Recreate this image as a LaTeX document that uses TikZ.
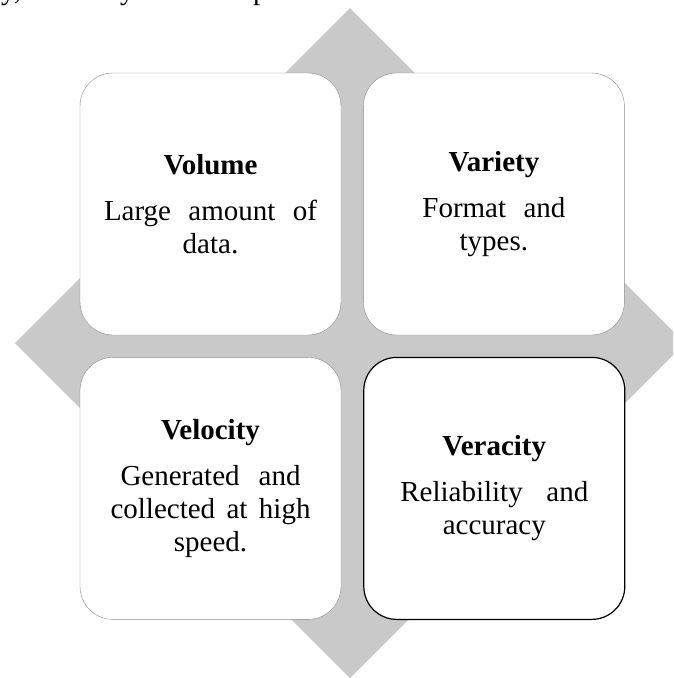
\documentclass[tikz,border=0pt]{standalone}
\usepackage{fontspec}
\setmainfont{Liberation Serif}
\usepackage{tikz}
\usetikzlibrary{positioning}

\definecolor{diagrey}{RGB}{201,201,201}
\definecolor{boxline}{RGB}{140,140,140}

\begin{document}
\begin{tikzpicture}[x=1pt, y=-1pt,
    vbox/.style = {shape=rectangle, draw=boxline, fill=white, rounded corners=33pt,
        minimum width=261pt, minimum height=262pt, align=center, inner sep=0pt,
        font=\fontsize{29}{33}\selectfont},
    frag/.style = {anchor=base west, inner sep=0pt, font=\fontsize{29}{33}\selectfont}]
    \useasboundingbox (0,0) rectangle (673,678);
    \clip (0,0) rectangle (673,678);
    % cut-off line of text above the figure
    \node[frag] (fraga) at (1,-0.5) {y,};
    \node[frag] (fragb) at (120,-0.5) {y};
    \node[frag] (fragc) at (253,-0.5) {p};
    % grey diamond behind the boxes
    \fill[diagrey] (350,8) -- (685,343) -- (350,678) -- (15,343) -- cycle;
    \node[vbox] (volume) at (210.5,204) {\textbf{Volume}\\[13pt]
        \makebox[213pt][s]{Large amount of}\\ data.};
    \node[vbox, right=22pt of volume] (variety) {\textbf{Variety}\\[13pt]
        \makebox[143pt][s]{Format and}\\ types.};
    \node[vbox, below=22pt of volume] (velocity) {\textbf{Velocity}\\[13pt]
        \makebox[180pt][s]{Generated and}\\ \makebox[200pt][s]{collected at high}\\ speed.};
    \node[vbox, draw=black, line width=1.2pt, right=22pt of velocity] (veracity) {\textbf{Veracity}\\[13pt]
        \makebox[188pt][s]{Reliability and}\\ accuracy};
\end{tikzpicture}
\end{document}
